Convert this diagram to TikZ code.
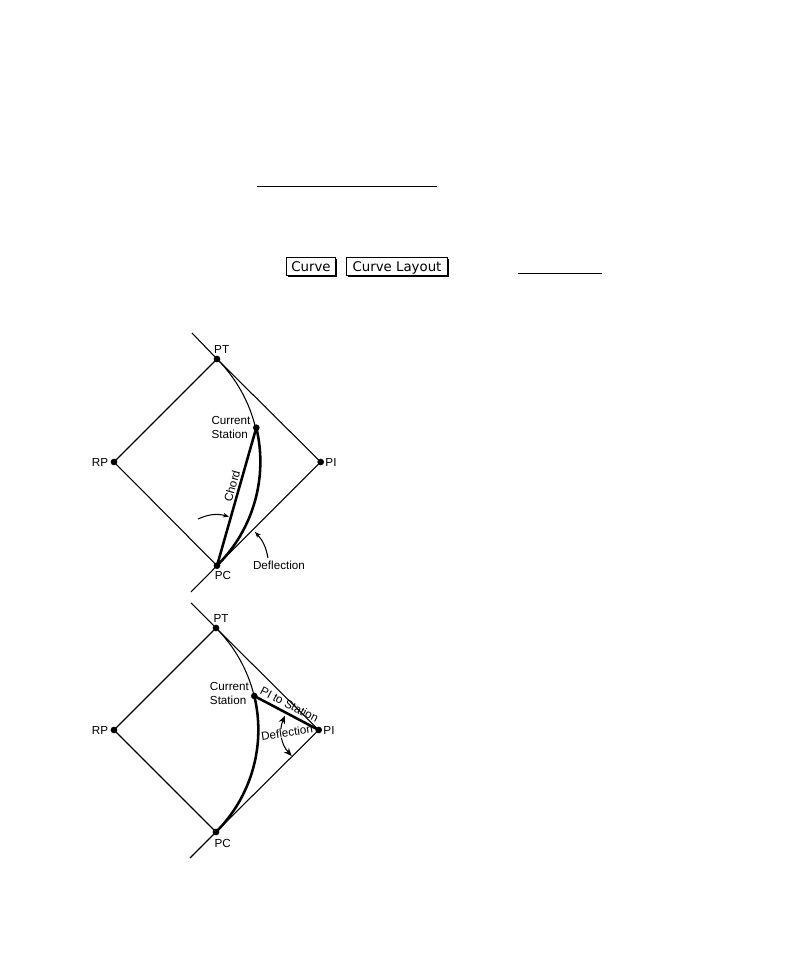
\documentclass[tikz,border=0pt]{standalone}
\usepackage{fontspec}
\setmainfont{Liberation Sans}
\newfontfamily\btnfont{DejaVu Sans}
\usetikzlibrary{shadows,arrows.meta}
\tikzset{
  dot/.style={circle,fill=black,inner sep=0pt,minimum size=5pt},
  lbl/.style={font=\fontsize{8.75}{10.4}\selectfont,inner sep=0pt},
  curvethin/.style={line width=0.8pt},
  curvethick/.style={line width=1.9pt},
  tipsmall/.style={-{Stealth[length=4.5pt,width=3.5pt]}},
  tipboth/.style={{Stealth[length=6pt,width=5pt]}-{Stealth[length=6pt,width=5pt]}},
  btn/.style={draw,fill=white,line width=0.8pt,font=\btnfont\fontsize{10}{12}\selectfont,inner sep=0pt,
    text height=8pt,text depth=0pt,minimum height=13.5pt,general shadow={fill=black,shadow xshift=1pt,shadow yshift=-1pt}}
}
\begin{document}
\begin{tikzpicture}[x=0.75pt,y=0.75pt]
    \useasboundingbox (0,0) rectangle (786,954);
    % header
    \coordinate (ruleAl) at (257,767.3);
    \coordinate (ruleAr) at (437,767.3);
    \draw[curvethin] (ruleAl) -- (ruleAr);
    \node[btn,minimum width=37pt] (btnCurve) at (311,687.7) {Curve};
    \node[btn,minimum width=75.5pt] (btnLayout) at (397,687.7) {Curve Layout};
    \coordinate (ruleBl) at (518,680.5);
    \coordinate (ruleBr) at (602,680.5);
    \draw[curvethin] (ruleBl) -- (ruleBr);

    % upper diagram
    \node[dot] (PTa) at (217,595) {};
    \node[dot] (PIa) at (320.7,492) {};
    \node[dot] (RPa) at (114,492) {};
    \node[dot] (PCa) at (217,388.3) {};
    \node[dot] (STa) at (256.3,526.3) {};
    \coordinate (topa) at (192,621);
    \coordinate (bota) at (191,362);
    \draw[curvethin] (topa) -- (PTa.center) -- (PIa.center);
    \draw[curvethin] (bota) -- (PCa.center) -- (PIa.center);
    \draw[curvethin] (PTa.center) -- (RPa.center) -- (PCa.center);
    \draw[curvethin] (PTa.center) arc[start angle=45,end angle=13.55,radius=145.7];
    \draw[curvethick] (STa.center) arc[start angle=13.55,end angle=-45,radius=145.7];
    \draw[curvethick] (STa.center) -- (PCa.center);
    \node[lbl] (lblPTa) at (221.7,605) {PT};
    \node[lbl] (lblPIa) at (331,491.5) {PI};
    \node[lbl] (lblRPa) at (100,491.5) {RP};
    \node[lbl] (lblPCa) at (223,379) {PC};
    \node[lbl,align=left,anchor=west] (lblSTa) at (211.3,526.6) {Current\\Station};
    \node[lbl,rotate=74] (lblChord) at (232,468) {Chord};
    \node[lbl] (lblDefa) at (279,388.5) {Deflection};
    \coordinate (chordfrom) at (198,435);
    \coordinate (chordto) at (229,437.3);
    \draw[curvethin,tipsmall] (chordfrom) to[bend left=20] (chordto);
    \coordinate (defafrom) at (268,396);
    \coordinate (defato) at (255,422);
    \draw[curvethin,tipsmall] (defafrom) to[bend right=16] (defato);

    % lower diagram
    \node[dot] (PTb) at (216,326) {};
    \node[dot] (PIb) at (318.7,224) {};
    \node[dot] (RPb) at (114,224) {};
    \node[dot] (PCb) at (216,122) {};
    \node[dot] (STb) at (254.3,258) {};
    \coordinate (topb) at (191,351);
    \coordinate (botb) at (190,96);
    \coordinate (defbfrom) at (285,238.3);
    \coordinate (defbto) at (291.7,198);
    \draw[curvethin,tipboth] (defbfrom) to[bend right=33] (defbto);
    \node[lbl,rotate=8,fill=white] (lblDefb) at (287,221.5) {Deflection};
    \draw[curvethin] (topb) -- (PTb.center) -- (PIb.center);
    \draw[curvethin] (botb) -- (PCb.center) -- (PIb.center);
    \draw[curvethin] (PTb.center) -- (RPb.center) -- (PCb.center);
    \draw[curvethin] (PTb.center) arc[start angle=45,end angle=13.6,radius=144.2];
    \draw[curvethick] (STb.center) arc[start angle=13.6,end angle=-45,radius=144.2];
    \draw[curvethick] (STb.center) -- (PIb.center);
    \node[lbl] (lblPTb) at (221,335.5) {PT};
    \node[lbl] (lblPIb) at (329,223.5) {PI};
    \node[lbl] (lblRPb) at (100,223.5) {RP};
    \node[lbl] (lblPCb) at (222.7,111) {PC};
    \node[lbl,align=left,anchor=west] (lblSTb) at (209.7,260.5) {Current\\Station};
    \node[lbl,rotate=-27.5] (lblPIST) at (289.5,249.5) {PI to Station};
\end{tikzpicture}
\end{document}
